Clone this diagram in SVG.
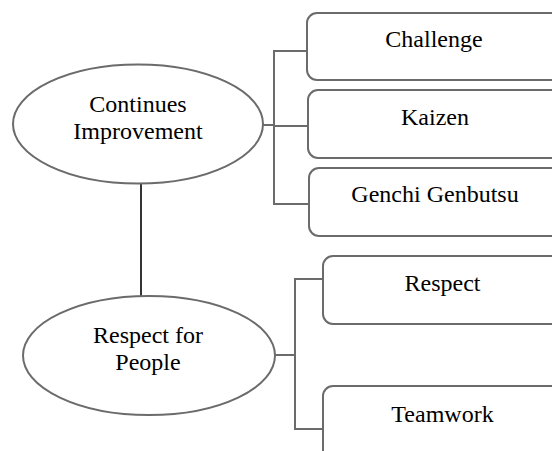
<svg xmlns="http://www.w3.org/2000/svg" width="552" height="451" viewBox="0 0 552 451" font-family="'Liberation Serif', 'Times New Roman', 'DejaVu Serif', serif">
<style>
.shape{fill:#ffffff;stroke:#6b6b6b;stroke-width:2}
.link{fill:none;stroke:#6b6b6b;stroke-width:2}
.stem{fill:none;stroke:#000000;stroke-width:1.6}
.lbl{font-family:'Liberation Serif','Times New Roman','DejaVu Serif',serif;font-size:24px;fill:#000000;text-anchor:middle}
</style>
<rect width="552" height="451" fill="#ffffff"/>
<g id="connectors">
<line class="stem" x1="141" y1="183" x2="141" y2="297"/>
<path class="link" d="M263 125 H274 M307 51 H274 V204 H309 M274 126 H308"/>
<path class="link" d="M275 355 H295 M323 279 H295 V429 H323"/>
</g>
<g id="continues-improvement">
<ellipse class="shape" cx="138" cy="124" rx="125" ry="59.5"/>
<text class="lbl" x="138" y="112">Continues</text>
<text class="lbl" x="138" y="139">Improvement</text>
</g>
<g id="respect-for-people">
<ellipse class="shape" cx="149" cy="355.5" rx="126" ry="59.5"/>
<text class="lbl" x="148" y="343">Respect for</text>
<text class="lbl" x="148" y="370">People</text>
</g>
<g id="challenge">
<rect class="shape" x="307" y="13" width="270" height="67" rx="10"/>
<text class="lbl" x="434" y="47">Challenge</text>
</g>
<g id="kaizen">
<rect class="shape" x="308" y="90" width="270" height="68" rx="10"/>
<text class="lbl" x="435" y="125">Kaizen</text>
</g>
<g id="genchi-genbutsu">
<rect class="shape" x="309" y="168" width="270" height="68" rx="10"/>
<text class="lbl" x="435" y="202">Genchi Genbutsu</text>
</g>
<g id="respect">
<rect class="shape" x="323" y="256" width="270" height="68" rx="10"/>
<text class="lbl" x="442.5" y="291">Respect</text>
</g>
<g id="teamwork">
<rect class="shape" x="323" y="386" width="270" height="100" rx="10"/>
<text class="lbl" x="442.5" y="422">Teamwork</text>
</g>
</svg>
